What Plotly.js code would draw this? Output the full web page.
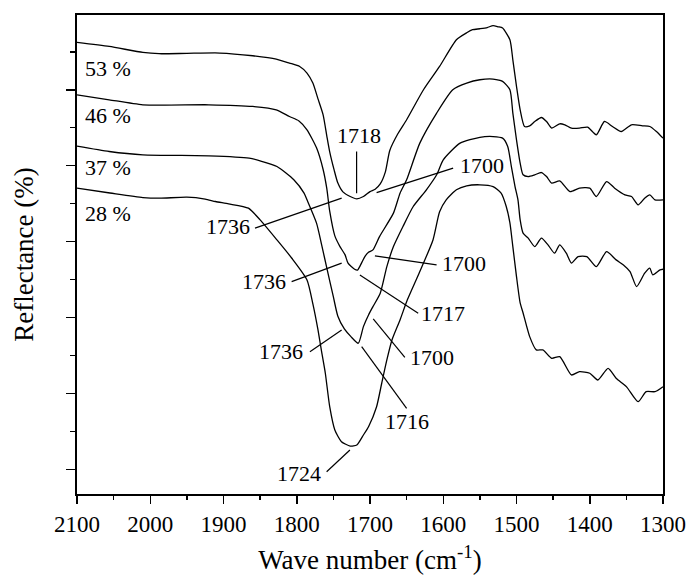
<!DOCTYPE html>
<html><head><meta charset="utf-8">
<script src="https://cdn.plot.ly/plotly-3.0.1.min.js"></script>
<style>html,body{margin:0;padding:0;background:#fff}</style>
</head><body><div id="chart" style="width:689px;height:583px"></div>
<script>
// Sample 53 %
const wn53 = [2100,2056,2010,1988,1950,1905,1860,1828,1810,1796,1786,1778,1771,1764,1759,1755,1749,1744,1737,1727,1718,1709,1700,1693,1686,1679,1673,1662,1650,1627,1605,1582,1568,1560,1550,1540,1532,1525,1519,1509,1505,1500,1495,1489,1482,1475,1466,1459,1452,1441,1434,1425,1414,1403,1391,1380,1369,1357,1343,1328,1318,1309,1300];
const r53 = [56.24,55.71,54.92,54.75,54.8,54.84,54.48,54.05,53.52,53.07,52.2,50.88,48.8,46.7,43.94,41.83,39.45,37.74,36.55,35.94,35.63,35.94,36.59,36.9,37.6,39.19,42.0,44.2,46.05,50.0,53.07,56.59,57.51,57.91,58.04,58.2,58.45,58.3,58.13,56.59,53.95,50.44,47.36,45.16,45.25,45.82,46.35,45.82,44.95,45.52,45.39,44.95,44.95,45.08,44.07,45.82,45.16,44.5,45.39,45.25,45.16,44.5,43.63];
// Sample 46 %
const wn46 = [2100,2056,2010,1920,1860,1828,1810,1797,1786,1773,1764,1759,1755,1748,1741,1734,1730,1721,1717,1714,1707,1702,1696,1687,1668,1659,1650,1632,1609,1587,1568,1550,1532,1519,1509,1505,1500,1495,1491,1484,1475,1466,1459,1452,1441,1427,1414,1400,1391,1377,1366,1352,1343,1334,1325,1318,1311,1300];
const r46 = [49.34,48.68,48.02,48.02,47.8,47.36,46.48,45.9,44.73,42.35,39.5,37.0,34.0,30.75,29.34,28.25,27.16,26.36,26.25,26.71,28.03,28.6,28.91,30.66,33.75,36.38,38.14,42.97,46.93,50.0,50.88,51.32,51.41,51.1,50.0,46.93,43.41,40.34,38.8,38.57,38.8,39.1,38.57,37.7,38.0,36.59,37.04,37.04,35.94,37.91,37.04,36.16,35.94,34.84,35.72,36.16,35.5,35.5];
// Sample 37 %
const wn37 = [2100,2056,2010,1920,1865,1850,1827,1804,1790,1786,1773,1766,1759,1750,1744,1735,1726,1716,1709,1702,1696,1686,1677,1668,1655,1641,1623,1609,1600,1577,1550,1532,1519,1512,1507,1502,1498,1495,1491,1484,1475,1466,1457,1448,1441,1432,1425,1416,1404,1391,1377,1364,1354,1345,1336,1325,1318,1314,1304,1300];
const r37 = [42.58,41.87,41.43,41.3,41.0,40.64,39.89,38.14,36.38,35.5,32.43,29.57,26.54,22.71,20.21,18.49,17.48,16.61,18.8,20.34,21.43,23.2,26.71,29.34,31.98,34.62,36.82,38.8,40.77,42.97,43.74,43.84,43.63,42.53,39.89,37.25,35.5,32.86,31.11,30.45,29.34,30.45,29.57,28.47,29.57,28.47,27.16,28.03,28.03,26.71,28.68,27.59,26.93,26.05,24.07,25.84,26.5,25.61,26.27,26.36];
// Sample 28 %
const wn28 = [2100,2055,2010,1987,1950,1925,1911,1893,1866,1850,1827,1807,1786,1778,1771,1766,1761,1755,1748,1739,1727,1718,1709,1702,1691,1684,1677,1670,1659,1649,1633,1614,1605,1596,1582,1568,1550,1532,1521,1514,1509,1505,1500,1495,1491,1482,1473,1464,1452,1441,1425,1414,1400,1389,1375,1364,1350,1334,1323,1311,1300];
const r28 = [37.04,36.4,35.8,35.72,35.85,35.6,35.28,34.97,34.4,32.86,30.22,27.84,24.95,21.79,18.36,15.46,12.66,8.25,5.18,3.64,3.07,3.2,4.52,5.62,8.25,11.34,14.41,17.04,19.68,22.33,25.84,30.22,33.92,35.5,36.82,37.35,37.48,37.25,36.38,34.62,32.47,29.34,25.39,21.92,20.6,17.48,15.73,15.73,14.63,14.84,12.43,12.87,12.66,11.77,13.31,12.0,10.89,8.91,10.23,10.23,10.89];

const seriesNames = ["53 %","46 %","37 %","28 %"];
const seriesLabelWn = [2092,2092,2092,2092];
const seriesLabelR = [52.77,46.57,39.78,33.65];

const peakLabels = ["1718","1736","1700","1736","1700","1717","1736","1700","1716","1724"];
const peakLabelWn = [1715,1894,1547,1845,1572,1600,1821,1615,1649,1797];
const peakLabelR = [43.94,31.94,39.98,24.7,27.06,20.47,15.47,14.67,6.24,-0.49];
const leaderWn0 = [1718.3,1857,1691,1807,1693.3,1713.8,1782,1695.6,1711.4,1759.2];
const leaderR0 = [41.87,31.77,36.46,24.73,28.12,25.61,15.5,19.81,16.16,-0.32];
const leaderWn1 = [1718.3,1738.7,1586.5,1738.7,1609.1,1634.2,1738.7,1652.4,1650,1727.4];
const leaderR1 = [36.38,35.72,39.68,27.16,26.93,20.56,18.36,14.76,8.04,2.54];

const FONT = '"Liberation Serif", "Times New Roman", Times, serif';
const xs = [wn53, wn46, wn37, wn28];
const ys = [r53, r46, r37, r28];
const traces = xs.map((x, i) => ({
  x: x, y: ys[i], type: 'scatter', mode: 'lines', name: seriesNames[i],
  line: {color: '#000', width: 1.3, shape: 'spline', smoothing: 0.6},
  hoverinfo: 'skip'
}));

const shapes = peakLabels.map((t, i) => ({
  type: 'line', xref: 'x', yref: 'y',
  x0: leaderWn0[i], y0: leaderR0[i], x1: leaderWn1[i], y1: leaderR1[i],
  line: {color: '#000', width: 1.2}
}));

const annotations = [];
peakLabels.forEach((t, i) => annotations.push({
  x: peakLabelWn[i], y: peakLabelR[i], xref: 'x', yref: 'y', text: t,
  showarrow: false, xanchor: 'center', yanchor: 'middle',
  font: {family: FONT, size: 22, color: '#000'}
}));
seriesNames.forEach((t, i) => annotations.push({
  x: seriesLabelWn[i], y: seriesLabelR[i], xref: 'x', yref: 'y', text: t,
  showarrow: false, xanchor: 'left', yanchor: 'middle',
  font: {family: FONT, size: 22, color: '#000'}
}));

const layout = {
  width: 689, height: 583,
  margin: {l: 77, r: 26, t: 15, b: 89},
  paper_bgcolor: '#fff', plot_bgcolor: '#fff',
  showlegend: false,
  font: {family: FONT, color: '#000'},
  xaxis: {
    range: [2100, 1300], tickmode: 'linear', tick0: 1300, dtick: 100,
    ticks: 'outside', ticklen: 8, tickwidth: 1.5, tickcolor: '#000',
    minor: {dtick: 50, ticks: 'outside', ticklen: 4, tickwidth: 1.5, tickcolor: '#000'},
    showline: true, linewidth: 2, linecolor: '#000', mirror: true,
    showgrid: false, zeroline: false,
    tickfont: {family: FONT, size: 23, color: '#000'},
    title: {text: 'Wave number (cm<sup>-1</sup>)', font: {family: FONT, size: 27, color: '#000'}, standoff: 15}
  },
  yaxis: {
    range: [-3.25, 59.85], tickmode: 'linear', tick0: 0, dtick: 10,
    ticks: 'outside', ticklen: 9, tickwidth: 1.5, tickcolor: '#000',
    minor: {dtick: 5, ticks: 'outside', ticklen: 5, tickwidth: 1.5, tickcolor: '#000'},
    showticklabels: false,
    showline: true, linewidth: 2, linecolor: '#000', mirror: true,
    showgrid: false, zeroline: false,
    title: {text: 'Reflectance (%)', font: {family: FONT, size: 27, color: '#000'}, standoff: 25}
  },
  shapes: shapes,
  annotations: annotations
};

Plotly.newPlot('chart', traces, layout, {displayModeBar: false, staticPlot: true});
</script>
</body></html>
